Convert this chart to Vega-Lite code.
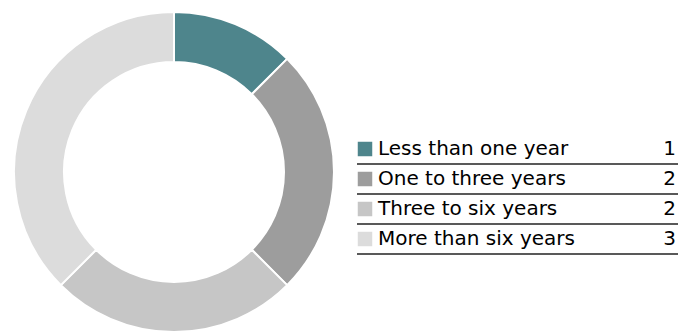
{
  "$schema": "https://vega.github.io/schema/vega-lite/v6.json",
  "padding": {"top": 8, "left": 0, "right": 0, "bottom": 0},
  "spacing": 8,
  "background": "white",
  "config": {"view": {"stroke": null}, "font": "DejaVu Sans"},
  "data": {"values": [
    {"category": "Less than one year", "count": 1, "order": 1},
    {"category": "One to three years", "count": 2, "order": 2},
    {"category": "Three to six years", "count": 2, "order": 3},
    {"category": "More than six years", "count": 3, "order": 4}
  ]},
  "hconcat": [
    {
      "width": 348,
      "height": 318,
      "mark": {"type": "arc", "outerRadius": 160, "innerRadius": 110, "stroke": "white", "strokeWidth": 2},
      "encoding": {
        "theta": {"field": "count", "type": "quantitative", "stack": true},
        "order": {"field": "order", "type": "quantitative"},
        "color": {"field": "category", "type": "nominal", "legend": null,
          "scale": {"domain": ["Less than one year", "One to three years", "Three to six years", "More than six years"],
                    "range": ["#4e858c", "#9d9d9d", "#c6c6c6", "#dcdcdc"]}}
      }
    },
    {
      "width": 322,
      "height": 318,
      "encoding": {
        "y": {"field": "category", "type": "nominal", "axis": null, "sort": {"field": "order"},
              "scale": {"range": [121, 241], "paddingInner": 0, "paddingOuter": 0}}
      },
      "layer": [
        {
          "mark": {"type": "rule", "stroke": "#222", "strokeWidth": 1.4},
          "encoding": {
            "x": {"datum": 0, "type": "quantitative", "scale": {"domain": [0, 322], "nice": false, "zero": false}, "axis": null},
            "x2": {"datum": 322},
            "y": {"field": "category", "type": "nominal", "sort": {"field": "order"}, "bandPosition": 1, "axis": null}
          }
        },
        {
          "mark": {"type": "square", "size": 210, "opacity": 1, "filled": true},
          "encoding": {
            "x": {"datum": 8, "type": "quantitative"},
            "color": {"field": "category", "type": "nominal", "legend": null,
              "scale": {"domain": ["Less than one year", "One to three years", "Three to six years", "More than six years"],
                        "range": ["#4e858c", "#9d9d9d", "#c6c6c6", "#dcdcdc"]}}
          }
        },
        {
          "mark": {"type": "text", "align": "left", "baseline": "middle", "fontSize": 20, "color": "#000"},
          "encoding": {
            "x": {"datum": 21, "type": "quantitative"},
            "text": {"field": "category"}
          }
        },
        {
          "mark": {"type": "text", "align": "right", "baseline": "middle", "fontSize": 20, "color": "#000"},
          "encoding": {
            "x": {"datum": 319, "type": "quantitative"},
            "text": {"field": "count"}
          }
        }
      ]
    }
  ]
}
